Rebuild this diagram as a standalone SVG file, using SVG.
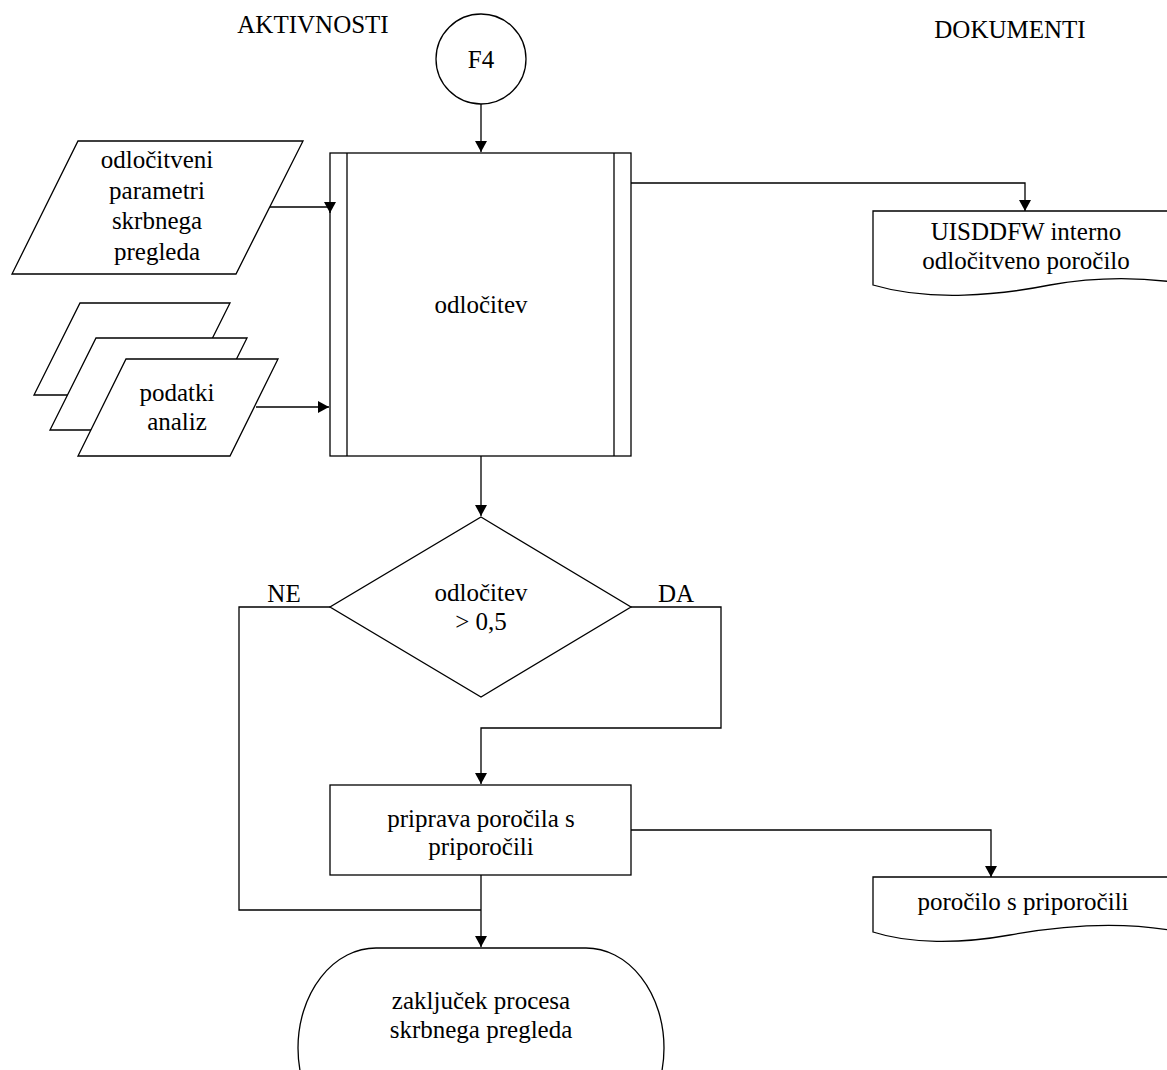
<svg xmlns="http://www.w3.org/2000/svg" width="1167" height="1070" viewBox="0 0 1167 1070">
  <style>
    .shape { fill: #fff; stroke: #000; stroke-width: 1.3; }
    .line { fill: none; stroke: #000; stroke-width: 1.3; }
    text { font-family: "Liberation Serif", "Times New Roman", serif; font-size: 25px; fill: #000; text-anchor: middle; }
  </style>
  <defs>
    <marker id="arrow" markerWidth="12" markerHeight="12" refX="11" refY="6" orient="auto" markerUnits="userSpaceOnUse">
      <path d="M0,0 L11,6 L0,12 Z" fill="#000"/>
    </marker>
  </defs>

  <!-- column headers -->
  <text x="313" y="33">AKTIVNOSTI</text>
  <text x="1010" y="38">DOKUMENTI</text>

  <!-- off-page connector F4 -->
  <g id="start-f4">
    <circle class="shape" cx="481" cy="59" r="45"/>
    <text x="481" y="68">F4</text>
  </g>

  <!-- input: decision parameters -->
  <g id="input-parameters">
    <polygon class="shape" points="78,141 303,141 236,274 12,274"/>
    <text x="157" y="168">odločitveni</text>
    <text x="157" y="199">parametri</text>
    <text x="157" y="229">skrbnega</text>
    <text x="157" y="260">pregleda</text>
  </g>

  <!-- input: analysis data (stacked) -->
  <g id="input-analysis">
    <polygon class="shape" points="80,303 230,303 184,395 34,395"/>
    <polygon class="shape" points="96,338 247,338 201,430 50,430"/>
    <polygon class="shape" points="126,359 278,359 230,456 78,456"/>
    <text x="177" y="401">podatki</text>
    <text x="177" y="430">analiz</text>
  </g>

  <!-- predefined process: decision -->
  <g id="process-decision">
    <rect class="shape" x="330" y="153" width="301" height="303"/>
    <line class="line" x1="347" y1="153" x2="347" y2="456"/>
    <line class="line" x1="614" y1="153" x2="614" y2="456"/>
    <text x="481" y="313">odločitev</text>
  </g>

  <!-- document: internal decision report -->
  <g id="doc-internal-report">
    <path class="shape" d="M873,211 H1180 V283 C1140,277 1100,276 1050,285 C1000,295 930,302 873,285 Z"/>
    <text x="1026" y="240">UISDDFW interno</text>
    <text x="1026" y="269">odločitveno poročilo</text>
  </g>

  <!-- decision: threshold -->
  <g id="decision-threshold">
    <polygon class="shape" points="481,517 631,607 481,697 330,607"/>
    <text x="481" y="601">odločitev</text>
    <text x="481" y="630">&gt; 0,5</text>
  </g>

  <!-- process: prepare report -->
  <g id="process-report">
    <rect class="shape" x="330" y="785" width="301" height="90"/>
    <text x="481" y="827">priprava poročila s</text>
    <text x="481" y="855">priporočili</text>
  </g>

  <!-- document: report with recommendations -->
  <g id="doc-recommendations">
    <path class="shape" d="M873,877 H1180 V932 C1130,922 1070,924 1010,935 C960,944 910,944 873,932 Z"/>
    <text x="1023" y="910">poročilo s priporočili</text>
  </g>

  <!-- terminator -->
  <g id="end">
    <rect class="shape" x="298" y="948" width="366" height="200" rx="78" ry="100"/>
    <text x="481" y="1009">zaključek procesa</text>
    <text x="481" y="1038">skrbnega pregleda</text>
  </g>

  <!-- connectors, drawn last so arrowheads sit on top of shape edges -->
  <g id="connectors">
    <path class="line" d="M481,104 V152" marker-end="url(#arrow)"/>
    <path class="line" d="M270,207 H330 V213" marker-end="url(#arrow)"/>
    <path class="line" d="M256,407 H329" marker-end="url(#arrow)"/>
    <path class="line" d="M631,183 H1025 V211" marker-end="url(#arrow)"/>
    <path class="line" d="M481,456 V516" marker-end="url(#arrow)"/>
    <path class="line" d="M631,607 H721 V728 H481 V784" marker-end="url(#arrow)"/>
    <path class="line" d="M330,607 H239 V910 H481"/>
    <path class="line" d="M481,875 V947" marker-end="url(#arrow)"/>
    <path class="line" d="M631,830 H991 V877" marker-end="url(#arrow)"/>
    <text x="284" y="602">NE</text>
    <text x="676" y="602">DA</text>
  </g>
</svg>
